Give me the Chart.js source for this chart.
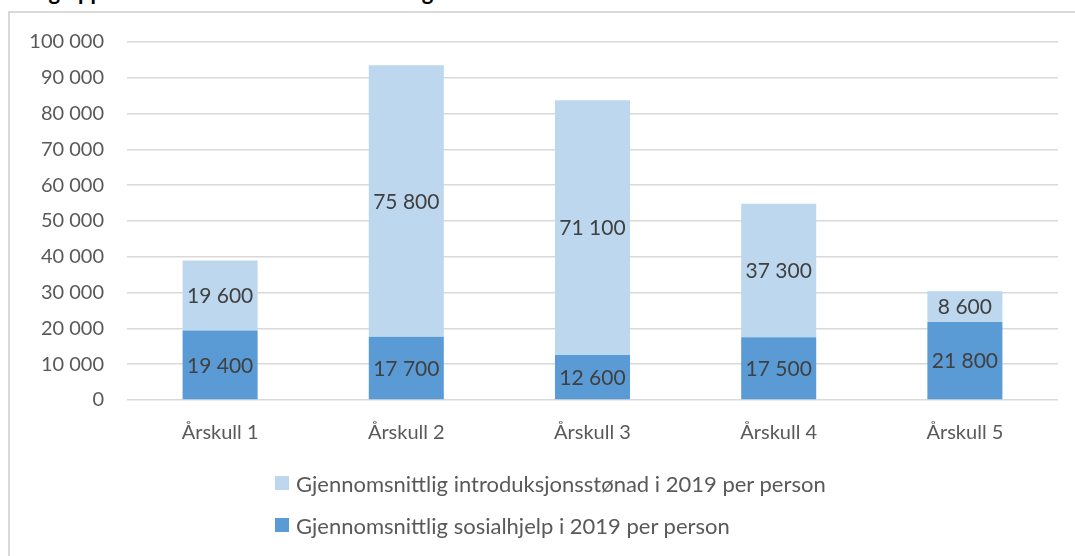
<!DOCTYPE html>
<html lang="no">
<head>
    <meta charset="UTF-8">
    <title>Stønad per årskull</title>
    <script src="https://cdn.jsdelivr.net/npm/chart.js"></script>
    <style>
        body {
            margin: 0;
            background: #fff;
            font-family: Lato, sans-serif;
            overflow: hidden;
        }

        .title {
            position: absolute;
            left: 14px;
            top: -19px;
            font-size: 22px;
            line-height: 22px;
            font-weight: bold;
            color: #000;
            white-space: nowrap;
        }

        .box {
            position: absolute;
            left: 8px;
            top: 11px;
            width: 1100px;
            height: 600px;
            border-left: 2px solid #d9d9d9;
            border-top: 2px solid #d9d9d9;
        }

        .chart-wrap {
            position: absolute;
            left: 0;
            top: -6px;
            width: 1065px;
            height: 549px;
        }

        #legend {
            position: absolute;
            left: 265px;
            top: 449px;
        }

        .legend-item {
            display: flex;
            align-items: center;
            height: 42px;
            font-size: 22px;
            color: #595959;
        }

        .legend-item span.swatch {
            display: inline-block;
            width: 14px;
            height: 14px;
            margin-right: 7px;
        }
    </style>
</head>
<body>

    <div class="title">Årlig oppsummert tilskuddet til deltaker og mottatt bistand</div>

    <div class="box">
        <div class="chart-wrap">
            <canvas id="chart"></canvas>
        </div>
        <div id="legend"></div>
    </div>

    <script>
        // Categories and values (kroner per person)
        const categories = ['Årskull 1', 'Årskull 2', 'Årskull 3', 'Årskull 4', 'Årskull 5'];
        const sosialhjelp = [19400, 17700, 12600, 17500, 21800];
        const introStonad = [19600, 75800, 71100, 37300, 8600];
        const seriesNames = [
            'Gjennomsnittlig sosialhjelp i 2019 per person',
            'Gjennomsnittlig introduksjonsstønad i 2019 per person'
        ];
        const yTicks = [0, 10000, 20000, 30000, 40000, 50000, 60000, 70000, 80000, 90000, 100000];

        // 19400 -> "19 400"
        function fmt(v) {
            return String(v).replace(/\B(?=(\d{3})+(?!\d))/g, ' ');
        }

        // Draw the value inside each bar segment
        const valueLabels = {
            id: 'valueLabels',
            afterDatasetsDraw(chart) {
                const ctx = chart.ctx;
                ctx.save();
                ctx.font = '21px Lato';
                ctx.fillStyle = '#404040';
                ctx.textAlign = 'center';
                ctx.textBaseline = 'middle';
                chart.data.datasets.forEach((ds, i) => {
                    chart.getDatasetMeta(i).data.forEach((bar, j) => {
                        const mid = (bar.y + bar.base) / 2;
                        ctx.fillText(fmt(ds.data[j]), bar.x, mid + 1);
                    });
                });
                ctx.restore();
            }
        };

        const ctx = document.getElementById('chart').getContext('2d');
        const chart = new Chart(ctx, {
            type: 'bar',
            data: {
                labels: categories,
                datasets: [{
                    label: seriesNames[0],
                    data: sosialhjelp,
                    backgroundColor: '#5b9bd5'
                },
                {
                    label: seriesNames[1],
                    data: introStonad,
                    backgroundColor: '#bdd7ee'
                }]
            },
            options: {
                responsive: true,
                maintainAspectRatio: false,
                animation: false,
                layout: {
                    padding: { top: 16, right: 17, bottom: 96, left: 0 }
                },
                datasets: {
                    bar: {
                        categoryPercentage: 1,
                        barPercentage: 0.403
                    }
                },
                scales: {
                    x: {
                        stacked: true,
                        grid: { display: false },
                        border: { display: false },
                        ticks: {
                            color: '#595959',
                            font: { family: 'Lato', size: 20 },
                            padding: 13
                        },
                        afterFit(scale) { scale.height = 60; }
                    },
                    y: {
                        stacked: true,
                        min: 0,
                        max: 100000,
                        afterBuildTicks(scale) {
                            scale.ticks = yTicks.map(v => ({ value: v }));
                        },
                        grid: {
                            color: '#d9d9d9',
                            lineWidth: 1.5,
                            drawTicks: false
                        },
                        border: { display: false },
                        ticks: {
                            color: '#595959',
                            font: { family: 'Lato', size: 20 },
                            padding: 23,
                            callback: v => fmt(v)
                        },
                        afterFit(scale) { scale.width = 117; }
                    }
                },
                plugins: {
                    legend: { display: false },
                    tooltip: { enabled: false }
                }
            },
            plugins: [valueLabels]
        });

        // Legend in the order shown: light series first
        const legendEl = document.getElementById('legend');
        [1, 0].forEach(i => {
            const ds = chart.data.datasets[i];
            const item = document.createElement('div');
            item.className = 'legend-item';
            item.innerHTML = '<span class="swatch" style="background:' + ds.backgroundColor + '"></span>' + ds.label;
            legendEl.appendChild(item);
        });
    </script>

</body>
</html>
